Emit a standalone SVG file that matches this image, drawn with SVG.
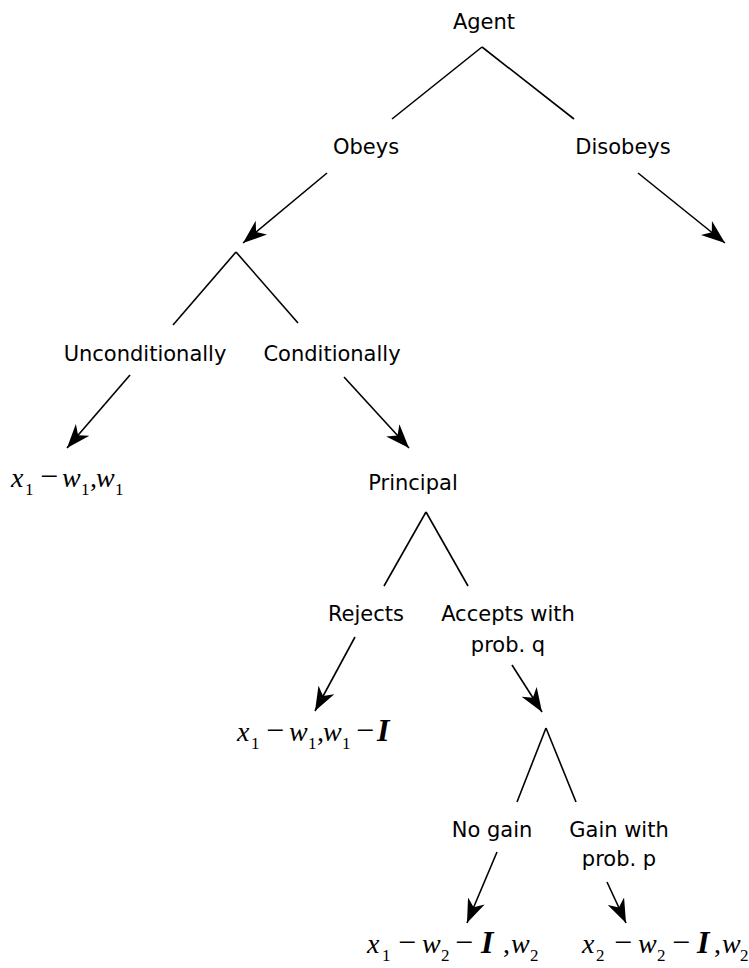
<svg xmlns="http://www.w3.org/2000/svg" width="749" height="968" viewBox="0 0 749 968">
<style>
.lbl{font-family:"DejaVu Sans","Verdana",sans-serif;font-size:21px;fill:#000;text-anchor:middle}
.edge{stroke:#000;stroke-width:1.6;fill:none}
.arr{stroke:#000;stroke-width:1.6;fill:none;marker-end:url(#ah)}
.m{font-family:"Liberation Serif","Times New Roman",serif;font-size:28px;fill:#000}
.v{font-style:italic}
.s{font-size:17px}
.op{font-size:32px}
.I{font-style:italic;font-weight:bold;font-size:32px}
</style>
<defs>
<marker id="ah" markerUnits="userSpaceOnUse" markerWidth="25" markerHeight="18" viewBox="0 0 25 18" refX="24" refY="9" orient="auto">
<path d="M24,9 L0,0 L7,9 L0,18 Z" fill="#000"/>
</marker>
</defs>
<rect width="749" height="968" fill="#fff"/>
<g id="connectors">
<line class="edge" x1="482" y1="47" x2="392" y2="119"/>
<line class="edge" x1="482" y1="47" x2="574" y2="119"/>
<line class="edge" x1="236" y1="252" x2="173" y2="325"/>
<line class="edge" x1="236" y1="252" x2="298" y2="323"/>
<line class="edge" x1="426" y1="512" x2="384" y2="586"/>
<line class="edge" x1="426" y1="512" x2="468" y2="586"/>
<line class="edge" x1="546" y1="728" x2="517" y2="802"/>
<line class="edge" x1="546" y1="728" x2="576" y2="802"/>
<line class="arr" x1="327" y1="173" x2="243" y2="243"/>
<line class="arr" x1="638" y1="173" x2="725" y2="243"/>
<line class="arr" x1="130" y1="375" x2="67" y2="448"/>
<line class="arr" x1="344" y1="377" x2="409" y2="448"/>
<line class="arr" x1="355" y1="637" x2="315" y2="711"/>
<line class="arr" x1="512" y1="665" x2="542" y2="712"/>
<line class="arr" x1="497" y1="852" x2="467" y2="923"/>
<line class="arr" x1="607" y1="882" x2="626" y2="923"/>
</g>
<g id="agent"><text class="lbl" x="484" y="29">Agent</text></g>
<g id="obeys"><text class="lbl" x="366" y="154">Obeys</text></g>
<g id="disobeys"><text class="lbl" x="623" y="154">Disobeys</text></g>
<g id="unconditionally"><text class="lbl" x="145" y="361">Unconditionally</text></g>
<g id="conditionally"><text class="lbl" x="332" y="361">Conditionally</text></g>
<g id="principal"><text class="lbl" x="413" y="490">Principal</text></g>
<g id="rejects"><text class="lbl" x="366" y="621">Rejects</text></g>
<g id="accepts"><text class="lbl" x="508" y="621">Accepts with</text><text class="lbl" x="508" y="652">prob. q</text></g>
<g id="nogain"><text class="lbl" x="492" y="837">No gain</text></g>
<g id="gain"><text class="lbl" x="619" y="837">Gain with</text><text class="lbl" x="619" y="866">prob. p</text></g>
<g id="payoff1"><text class="m"><tspan class="v" x="11" y="487">x</tspan><tspan class="s" x="25" y="495">1</tspan><tspan class="op" x="40" y="487">−</tspan><tspan class="v" x="62" y="487">w</tspan><tspan class="s" x="81" y="495">1</tspan><tspan x="90" y="487">,</tspan><tspan class="v" x="96" y="487">w</tspan><tspan class="s" x="115" y="495">1</tspan></text></g>
<g id="payoff2"><text class="m"><tspan class="v" x="237" y="741">x</tspan><tspan class="s" x="251" y="749">1</tspan><tspan class="op" x="266" y="741">−</tspan><tspan class="v" x="289" y="741">w</tspan><tspan class="s" x="308" y="749">1</tspan><tspan x="317" y="741">,</tspan><tspan class="v" x="323" y="741">w</tspan><tspan class="s" x="342" y="749">1</tspan><tspan class="op" x="356" y="741">−</tspan><tspan class="I" x="377" y="741">I</tspan></text></g>
<g id="payoff3"><text class="m"><tspan class="v" x="367" y="953">x</tspan><tspan class="s" x="382" y="961">1</tspan><tspan class="op" x="398" y="953">−</tspan><tspan class="v" x="422" y="953">w</tspan><tspan class="s" x="441" y="961">2</tspan><tspan class="op" x="455" y="953">−</tspan><tspan class="I" x="481" y="953">I</tspan><tspan x="503" y="953">,</tspan><tspan class="v" x="511" y="953">w</tspan><tspan class="s" x="530" y="961">2</tspan></text></g>
<g id="payoff4"><text class="m"><tspan class="v" x="582" y="953">x</tspan><tspan class="s" x="596" y="961">2</tspan><tspan class="op" x="614" y="953">−</tspan><tspan class="v" x="638" y="953">w</tspan><tspan class="s" x="657" y="961">2</tspan><tspan class="op" x="672" y="953">−</tspan><tspan class="I" x="697" y="953">I</tspan><tspan x="714" y="953">,</tspan><tspan class="v" x="722" y="953">w</tspan><tspan class="s" x="740" y="961">2</tspan></text></g>
</svg>
